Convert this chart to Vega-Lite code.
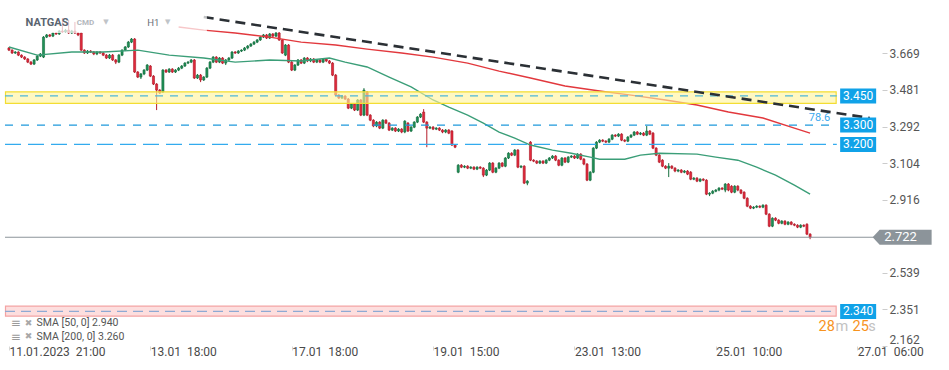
{
"$schema": "https://vega.github.io/schema/vega-lite/v6.json",
"width": 882, "height": 346,
"padding": {"left": 0, "top": 0, "right": 67, "bottom": 24},
"autosize": {"type": "none"},
"background": "white",
"config": {"view": {"stroke": null}, "font": "Roboto", "axis": {"grid": false, "domain": false}},
"resolve": {"scale": {"color": "independent", "stroke": "independent", "fill": "independent", "strokeDash": "independent"}},
"datasets": {
"bars": [
{"k":0,"o":3.697,"h":3.702,"l":3.681,"c":3.686},{"k":1,"o":3.686,"h":3.690,"l":3.666,"c":3.671},{"k":2,"o":3.671,"h":3.681,"l":3.666,"c":3.676},{"k":3,"o":3.676,"h":3.680,"l":3.655,"c":3.660},{"k":4,"o":3.660,"h":3.664,"l":3.645,"c":3.650},{"k":5,"o":3.650,"h":3.655,"l":3.635,"c":3.640},{"k":6,"o":3.640,"h":3.645,"l":3.619,"c":3.624},{"k":7,"o":3.624,"h":3.630,"l":3.609,"c":3.614},{"k":8,"o":3.614,"h":3.640,"l":3.609,"c":3.635},{"k":9,"o":3.635,"h":3.660,"l":3.630,"c":3.655},
{"k":10,"o":3.655,"h":3.671,"l":3.650,"c":3.666},{"k":11,"o":3.650,"h":3.758,"l":3.645,"c":3.753},{"k":12,"o":3.753,"h":3.769,"l":3.748,"c":3.764},{"k":13,"o":3.764,"h":3.769,"l":3.753,"c":3.758},{"k":14,"o":3.758,"h":3.779,"l":3.753,"c":3.774},{"k":15,"o":3.774,"h":3.779,"l":3.764,"c":3.769},{"k":16,"o":3.769,"h":3.790,"l":3.764,"c":3.784},{"k":17,"o":3.784,"h":3.851,"l":3.774,"c":3.779},{"k":18,"o":3.779,"h":3.795,"l":3.774,"c":3.789},{"k":19,"o":3.789,"h":3.841,"l":3.769,"c":3.774},
{"k":20,"o":3.774,"h":3.790,"l":3.769,"c":3.784},{"k":21,"o":3.784,"h":3.831,"l":3.769,"c":3.774},{"k":22,"o":3.774,"h":3.779,"l":3.758,"c":3.764},{"k":23,"o":3.774,"h":3.779,"l":3.681,"c":3.686},{"k":24,"o":3.686,"h":3.690,"l":3.666,"c":3.671},{"k":25,"o":3.671,"h":3.686,"l":3.666,"c":3.681},{"k":26,"o":3.681,"h":3.686,"l":3.671,"c":3.676},{"k":27,"o":3.676,"h":3.681,"l":3.660,"c":3.666},{"k":28,"o":3.666,"h":3.681,"l":3.660,"c":3.676},{"k":29,"o":3.676,"h":3.681,"l":3.666,"c":3.671},
{"k":30,"o":3.671,"h":3.676,"l":3.655,"c":3.660},{"k":31,"o":3.660,"h":3.666,"l":3.640,"c":3.645},{"k":32,"o":3.645,"h":3.666,"l":3.640,"c":3.660},{"k":33,"o":3.660,"h":3.666,"l":3.630,"c":3.635},{"k":34,"o":3.635,"h":3.640,"l":3.614,"c":3.624},{"k":35,"o":3.624,"h":3.666,"l":3.619,"c":3.660},{"k":36,"o":3.660,"h":3.690,"l":3.655,"c":3.686},{"k":37,"o":3.686,"h":3.707,"l":3.681,"c":3.702},{"k":38,"o":3.702,"h":3.733,"l":3.697,"c":3.727},{"k":39,"o":3.727,"h":3.748,"l":3.722,"c":3.743},
{"k":40,"o":3.743,"h":3.748,"l":3.568,"c":3.573},{"k":41,"o":3.573,"h":3.578,"l":3.542,"c":3.547},{"k":42,"o":3.547,"h":3.568,"l":3.537,"c":3.563},{"k":43,"o":3.563,"h":3.588,"l":3.557,"c":3.583},{"k":44,"o":3.583,"h":3.614,"l":3.578,"c":3.609},{"k":45,"o":3.604,"h":3.609,"l":3.547,"c":3.552},{"k":46,"o":3.552,"h":3.557,"l":3.506,"c":3.511},{"k":47,"o":3.511,"h":3.516,"l":3.377,"c":3.480},{"k":48,"o":3.480,"h":3.485,"l":3.460,"c":3.465},{"k":49,"o":3.470,"h":3.588,"l":3.465,"c":3.583},
{"k":50,"o":3.583,"h":3.588,"l":3.568,"c":3.573},{"k":51,"o":3.573,"h":3.593,"l":3.568,"c":3.588},{"k":52,"o":3.588,"h":3.593,"l":3.568,"c":3.573},{"k":53,"o":3.573,"h":3.588,"l":3.568,"c":3.583},{"k":54,"o":3.583,"h":3.599,"l":3.578,"c":3.593},{"k":55,"o":3.593,"h":3.609,"l":3.588,"c":3.604},{"k":56,"o":3.604,"h":3.624,"l":3.599,"c":3.619},{"k":57,"o":3.619,"h":3.630,"l":3.614,"c":3.624},{"k":58,"o":3.624,"h":3.640,"l":3.619,"c":3.635},{"k":59,"o":3.635,"h":3.640,"l":3.537,"c":3.542},
{"k":60,"o":3.542,"h":3.563,"l":3.537,"c":3.557},{"k":61,"o":3.557,"h":3.563,"l":3.521,"c":3.532},{"k":62,"o":3.532,"h":3.552,"l":3.527,"c":3.547},{"k":63,"o":3.547,"h":3.599,"l":3.542,"c":3.593},{"k":64,"o":3.593,"h":3.630,"l":3.588,"c":3.624},{"k":65,"o":3.624,"h":3.655,"l":3.619,"c":3.650},{"k":66,"o":3.650,"h":3.655,"l":3.619,"c":3.624},{"k":67,"o":3.624,"h":3.650,"l":3.619,"c":3.645},{"k":68,"o":3.645,"h":3.650,"l":3.614,"c":3.619},{"k":69,"o":3.619,"h":3.640,"l":3.609,"c":3.635},
{"k":70,"o":3.635,"h":3.650,"l":3.630,"c":3.645},{"k":71,"o":3.645,"h":3.681,"l":3.640,"c":3.676},{"k":72,"o":3.676,"h":3.681,"l":3.666,"c":3.671},{"k":73,"o":3.671,"h":3.686,"l":3.666,"c":3.681},{"k":74,"o":3.681,"h":3.690,"l":3.676,"c":3.686},{"k":75,"o":3.686,"h":3.702,"l":3.681,"c":3.697},{"k":76,"o":3.697,"h":3.712,"l":3.690,"c":3.707},{"k":77,"o":3.707,"h":3.722,"l":3.702,"c":3.717},{"k":78,"o":3.717,"h":3.733,"l":3.712,"c":3.727},{"k":79,"o":3.727,"h":3.743,"l":3.722,"c":3.738},
{"k":80,"o":3.738,"h":3.758,"l":3.733,"c":3.753},{"k":81,"o":3.753,"h":3.769,"l":3.748,"c":3.764},{"k":82,"o":3.764,"h":3.769,"l":3.743,"c":3.748},{"k":83,"o":3.748,"h":3.774,"l":3.743,"c":3.769},{"k":84,"o":3.769,"h":3.774,"l":3.753,"c":3.758},{"k":85,"o":3.758,"h":3.779,"l":3.753,"c":3.774},{"k":86,"o":3.774,"h":3.779,"l":3.733,"c":3.738},{"k":87,"o":3.738,"h":3.743,"l":3.666,"c":3.671},{"k":88,"o":3.660,"h":3.717,"l":3.655,"c":3.712},{"k":89,"o":3.712,"h":3.717,"l":3.619,"c":3.624},
{"k":90,"o":3.624,"h":3.630,"l":3.578,"c":3.583},{"k":91,"o":3.583,"h":3.614,"l":3.578,"c":3.609},{"k":92,"o":3.609,"h":3.640,"l":3.604,"c":3.635},{"k":93,"o":3.635,"h":3.640,"l":3.614,"c":3.619},{"k":94,"o":3.619,"h":3.650,"l":3.614,"c":3.645},{"k":95,"o":3.645,"h":3.650,"l":3.624,"c":3.630},{"k":96,"o":3.630,"h":3.645,"l":3.624,"c":3.640},{"k":97,"o":3.640,"h":3.645,"l":3.619,"c":3.624},{"k":98,"o":3.624,"h":3.640,"l":3.619,"c":3.635},{"k":99,"o":3.635,"h":3.640,"l":3.619,"c":3.624},
{"k":100,"o":3.624,"h":3.645,"l":3.619,"c":3.640},{"k":101,"o":3.640,"h":3.645,"l":3.624,"c":3.630},{"k":102,"o":3.630,"h":3.635,"l":3.614,"c":3.619},{"k":103,"o":3.619,"h":3.624,"l":3.552,"c":3.557},{"k":104,"o":3.557,"h":3.563,"l":3.449,"c":3.454},{"k":105,"o":3.454,"h":3.460,"l":3.434,"c":3.439},{"k":106,"o":3.439,"h":3.454,"l":3.434,"c":3.449},{"k":107,"o":3.449,"h":3.454,"l":3.429,"c":3.434},{"k":108,"o":3.434,"h":3.439,"l":3.382,"c":3.387},{"k":109,"o":3.387,"h":3.413,"l":3.382,"c":3.408},
{"k":110,"o":3.408,"h":3.413,"l":3.372,"c":3.377},{"k":111,"o":3.377,"h":3.434,"l":3.372,"c":3.429},{"k":112,"o":3.429,"h":3.434,"l":3.346,"c":3.351},{"k":113,"o":3.351,"h":3.490,"l":3.346,"c":3.480},{"k":114,"o":3.470,"h":3.475,"l":3.346,"c":3.351},{"k":115,"o":3.351,"h":3.356,"l":3.320,"c":3.325},{"k":116,"o":3.325,"h":3.330,"l":3.289,"c":3.295},{"k":117,"o":3.295,"h":3.320,"l":3.289,"c":3.315},{"k":118,"o":3.315,"h":3.320,"l":3.279,"c":3.284},{"k":119,"o":3.284,"h":3.330,"l":3.279,"c":3.325},
{"k":120,"o":3.325,"h":3.330,"l":3.305,"c":3.310},{"k":121,"o":3.310,"h":3.315,"l":3.269,"c":3.274},{"k":122,"o":3.274,"h":3.289,"l":3.269,"c":3.284},{"k":123,"o":3.284,"h":3.289,"l":3.264,"c":3.269},{"k":124,"o":3.269,"h":3.284,"l":3.264,"c":3.279},{"k":125,"o":3.279,"h":3.284,"l":3.258,"c":3.264},{"k":126,"o":3.264,"h":3.325,"l":3.258,"c":3.320},{"k":127,"o":3.310,"h":3.315,"l":3.264,"c":3.269},{"k":128,"o":3.269,"h":3.295,"l":3.264,"c":3.289},{"k":129,"o":3.289,"h":3.320,"l":3.284,"c":3.315},
{"k":130,"o":3.315,"h":3.346,"l":3.310,"c":3.341},{"k":131,"o":3.341,"h":3.361,"l":3.336,"c":3.356},{"k":132,"o":3.367,"h":3.382,"l":3.310,"c":3.315},{"k":133,"o":3.315,"h":3.320,"l":3.186,"c":3.284},{"k":134,"o":3.284,"h":3.295,"l":3.279,"c":3.289},{"k":135,"o":3.289,"h":3.295,"l":3.274,"c":3.279},{"k":136,"o":3.279,"h":3.289,"l":3.274,"c":3.284},{"k":137,"o":3.284,"h":3.289,"l":3.269,"c":3.274},{"k":138,"o":3.274,"h":3.279,"l":3.258,"c":3.264},{"k":139,"o":3.264,"h":3.279,"l":3.258,"c":3.274},
{"k":140,"o":3.274,"h":3.279,"l":3.253,"c":3.258},{"k":141,"o":3.269,"h":3.274,"l":3.192,"c":3.197},{"k":142,"o":3.197,"h":3.202,"l":3.181,"c":3.186},{"k":143,"o":3.057,"h":3.099,"l":3.052,"c":3.093},{"k":144,"o":3.093,"h":3.099,"l":3.078,"c":3.083},{"k":145,"o":3.083,"h":3.093,"l":3.078,"c":3.088},{"k":146,"o":3.088,"h":3.093,"l":3.073,"c":3.078},{"k":147,"o":3.078,"h":3.088,"l":3.073,"c":3.083},{"k":148,"o":3.083,"h":3.088,"l":3.068,"c":3.073},{"k":149,"o":3.073,"h":3.088,"l":3.068,"c":3.083},
{"k":150,"o":3.083,"h":3.088,"l":3.073,"c":3.078},{"k":151,"o":3.078,"h":3.083,"l":3.032,"c":3.042},{"k":152,"o":3.042,"h":3.073,"l":3.037,"c":3.068},{"k":153,"o":3.068,"h":3.109,"l":3.063,"c":3.104},{"k":154,"o":3.104,"h":3.109,"l":3.052,"c":3.057},{"k":155,"o":3.057,"h":3.083,"l":3.052,"c":3.078},{"k":156,"o":3.078,"h":3.109,"l":3.073,"c":3.104},{"k":157,"o":3.104,"h":3.109,"l":3.083,"c":3.088},{"k":158,"o":3.088,"h":3.135,"l":3.083,"c":3.130},{"k":159,"o":3.130,"h":3.160,"l":3.125,"c":3.155},
{"k":160,"o":3.155,"h":3.160,"l":3.140,"c":3.145},{"k":161,"o":3.145,"h":3.176,"l":3.140,"c":3.171},{"k":162,"o":3.171,"h":3.176,"l":3.078,"c":3.083},{"k":163,"o":3.083,"h":3.093,"l":3.078,"c":3.088},{"k":164,"o":3.088,"h":3.093,"l":2.996,"c":3.001},{"k":165,"o":3.001,"h":3.016,"l":2.990,"c":3.011},{"k":166,"o":3.212,"h":3.217,"l":3.114,"c":3.119},{"k":167,"o":3.119,"h":3.124,"l":3.109,"c":3.114},{"k":168,"o":3.114,"h":3.119,"l":3.099,"c":3.104},{"k":169,"o":3.104,"h":3.119,"l":3.099,"c":3.114},
{"k":170,"o":3.114,"h":3.119,"l":3.099,"c":3.104},{"k":171,"o":3.104,"h":3.124,"l":3.099,"c":3.119},{"k":172,"o":3.119,"h":3.135,"l":3.114,"c":3.130},{"k":173,"o":3.130,"h":3.145,"l":3.125,"c":3.140},{"k":174,"o":3.140,"h":3.145,"l":3.114,"c":3.119},{"k":175,"o":3.119,"h":3.124,"l":3.088,"c":3.093},{"k":176,"o":3.093,"h":3.135,"l":3.088,"c":3.130},{"k":177,"o":3.130,"h":3.135,"l":3.104,"c":3.109},{"k":178,"o":3.109,"h":3.140,"l":3.104,"c":3.135},{"k":179,"o":3.135,"h":3.145,"l":3.130,"c":3.140},
{"k":180,"o":3.140,"h":3.145,"l":3.125,"c":3.130},{"k":181,"o":3.130,"h":3.155,"l":3.125,"c":3.150},{"k":182,"o":3.150,"h":3.155,"l":3.119,"c":3.124},{"k":183,"o":3.124,"h":3.130,"l":3.093,"c":3.099},{"k":184,"o":3.099,"h":3.104,"l":3.011,"c":3.016},{"k":185,"o":3.016,"h":3.063,"l":3.011,"c":3.057},{"k":186,"o":3.057,"h":3.186,"l":3.052,"c":3.181},{"k":187,"o":3.181,"h":3.217,"l":3.176,"c":3.212},{"k":188,"o":3.212,"h":3.227,"l":3.207,"c":3.222},{"k":189,"o":3.222,"h":3.227,"l":3.212,"c":3.217},
{"k":190,"o":3.217,"h":3.222,"l":3.207,"c":3.212},{"k":191,"o":3.212,"h":3.233,"l":3.207,"c":3.227},{"k":192,"o":3.227,"h":3.253,"l":3.222,"c":3.248},{"k":193,"o":3.248,"h":3.253,"l":3.238,"c":3.243},{"k":194,"o":3.243,"h":3.258,"l":3.238,"c":3.253},{"k":195,"o":3.253,"h":3.258,"l":3.217,"c":3.222},{"k":196,"o":3.222,"h":3.227,"l":3.212,"c":3.217},{"k":197,"o":3.217,"h":3.243,"l":3.212,"c":3.238},{"k":198,"o":3.238,"h":3.253,"l":3.233,"c":3.248},{"k":199,"o":3.248,"h":3.269,"l":3.243,"c":3.264},
{"k":200,"o":3.264,"h":3.269,"l":3.248,"c":3.253},{"k":201,"o":3.253,"h":3.264,"l":3.248,"c":3.258},{"k":202,"o":3.258,"h":3.264,"l":3.243,"c":3.248},{"k":203,"o":3.248,"h":3.295,"l":3.243,"c":3.269},{"k":204,"o":3.269,"h":3.274,"l":3.248,"c":3.253},{"k":205,"o":3.258,"h":3.264,"l":3.176,"c":3.181},{"k":206,"o":3.181,"h":3.186,"l":3.140,"c":3.145},{"k":207,"o":3.145,"h":3.150,"l":3.104,"c":3.109},{"k":208,"o":3.119,"h":3.124,"l":3.083,"c":3.088},{"k":209,"o":3.088,"h":3.093,"l":3.073,"c":3.078},
{"k":210,"o":3.078,"h":3.104,"l":3.032,"c":3.088},{"k":211,"o":3.088,"h":3.093,"l":3.073,"c":3.078},{"k":212,"o":3.078,"h":3.083,"l":3.057,"c":3.063},{"k":213,"o":3.063,"h":3.073,"l":3.057,"c":3.068},{"k":214,"o":3.068,"h":3.073,"l":3.052,"c":3.057},{"k":215,"o":3.057,"h":3.068,"l":3.052,"c":3.063},{"k":216,"o":3.063,"h":3.068,"l":3.042,"c":3.047},{"k":217,"o":3.057,"h":3.063,"l":3.016,"c":3.021},{"k":218,"o":3.021,"h":3.032,"l":3.016,"c":3.026},{"k":219,"o":3.026,"h":3.032,"l":3.006,"c":3.011},
{"k":220,"o":3.011,"h":3.026,"l":3.006,"c":3.021},{"k":221,"o":3.021,"h":3.026,"l":3.011,"c":3.016},{"k":222,"o":3.016,"h":3.021,"l":2.939,"c":2.944},{"k":223,"o":2.944,"h":2.954,"l":2.934,"c":2.949},{"k":224,"o":2.949,"h":2.965,"l":2.944,"c":2.959},{"k":225,"o":2.959,"h":2.970,"l":2.954,"c":2.965},{"k":226,"o":2.965,"h":2.980,"l":2.959,"c":2.975},{"k":227,"o":2.975,"h":2.980,"l":2.965,"c":2.970},{"k":228,"o":2.965,"h":3.001,"l":2.954,"c":2.996},{"k":229,"o":2.996,"h":3.001,"l":2.959,"c":2.965},
{"k":230,"o":2.985,"h":2.990,"l":2.949,"c":2.954},{"k":231,"o":2.954,"h":2.990,"l":2.949,"c":2.985},{"k":232,"o":2.985,"h":2.990,"l":2.959,"c":2.965},{"k":233,"o":2.965,"h":2.970,"l":2.944,"c":2.949},{"k":234,"o":2.954,"h":2.959,"l":2.918,"c":2.923},{"k":235,"o":2.923,"h":2.928,"l":2.877,"c":2.882},{"k":236,"o":2.882,"h":2.887,"l":2.867,"c":2.872},{"k":237,"o":2.872,"h":2.882,"l":2.867,"c":2.877},{"k":238,"o":2.877,"h":2.887,"l":2.872,"c":2.882},{"k":239,"o":2.882,"h":2.887,"l":2.872,"c":2.877},
{"k":240,"o":2.877,"h":2.892,"l":2.872,"c":2.887},{"k":241,"o":2.887,"h":2.892,"l":2.836,"c":2.841},{"k":242,"o":2.841,"h":2.846,"l":2.774,"c":2.779},{"k":243,"o":2.779,"h":2.825,"l":2.774,"c":2.820},{"k":244,"o":2.820,"h":2.825,"l":2.805,"c":2.810},{"k":245,"o":2.810,"h":2.815,"l":2.789,"c":2.794},{"k":246,"o":2.794,"h":2.810,"l":2.789,"c":2.805},{"k":247,"o":2.805,"h":2.810,"l":2.784,"c":2.789},{"k":248,"o":2.789,"h":2.805,"l":2.784,"c":2.800},{"k":249,"o":2.800,"h":2.805,"l":2.784,"c":2.789},
{"k":250,"o":2.789,"h":2.794,"l":2.779,"c":2.784},{"k":251,"o":2.784,"h":2.789,"l":2.769,"c":2.774},{"k":252,"o":2.774,"h":2.789,"l":2.769,"c":2.784},{"k":253,"o":2.784,"h":2.789,"l":2.774,"c":2.779},{"k":254,"o":2.789,"h":2.794,"l":2.733,"c":2.738},{"k":255,"o":2.738,"h":2.743,"l":2.712,"c":2.722}
],
"sma": [
{"s":"SMA50","k":0,"v":3.702},{"s":"SMA50","k":9,"v":3.660},{"s":"SMA50","k":20,"v":3.676},{"s":"SMA50","k":30,"v":3.676},{"s":"SMA50","k":41,"v":3.686},{"s":"SMA50","k":51,"v":3.660},{"s":"SMA50","k":62,"v":3.645},{"s":"SMA50","k":72,"v":3.624},{"s":"SMA50","k":83,"v":3.635},{"s":"SMA50","k":93,"v":3.630},{"s":"SMA50","k":102,"v":3.645},{"s":"SMA50","k":107,"v":3.624},{"s":"SMA50","k":114,"v":3.599},{"s":"SMA50","k":121,"v":3.547},{"s":"SMA50","k":128,"v":3.496},{"s":"SMA50","k":135,"v":3.429},{"s":"SMA50","k":140,"v":3.392},{"s":"SMA50","k":146,"v":3.351},{"s":"SMA50","k":151,"v":3.310},{"s":"SMA50","k":156,"v":3.264},{"s":"SMA50","k":161,"v":3.233},{"s":"SMA50","k":166,"v":3.197},{"s":"SMA50","k":173,"v":3.171},{"s":"SMA50","k":179,"v":3.155},{"s":"SMA50","k":185,"v":3.135},{"s":"SMA50","k":188,"v":3.124},{"s":"SMA50","k":196,"v":3.124},{"s":"SMA50","k":201,"v":3.145},{"s":"SMA50","k":207,"v":3.155},{"s":"SMA50","k":219,"v":3.150},{"s":"SMA50","k":225,"v":3.135},{"s":"SMA50","k":232,"v":3.119},{"s":"SMA50","k":238,"v":3.083},{"s":"SMA50","k":244,"v":3.042},{"s":"SMA50","k":250,"v":2.990},{"s":"SMA50","k":255,"v":2.944},
{"s":"SMA200","k":54,"v":3.805},{"s":"SMA200","k":62,"v":3.789},{"s":"SMA200","k":72,"v":3.774},{"s":"SMA200","k":83,"v":3.753},{"s":"SMA200","k":93,"v":3.727},{"s":"SMA200","k":104,"v":3.712},{"s":"SMA200","k":114,"v":3.691},{"s":"SMA200","k":125,"v":3.671},{"s":"SMA200","k":135,"v":3.650},{"s":"SMA200","k":146,"v":3.619},{"s":"SMA200","k":156,"v":3.578},{"s":"SMA200","k":166,"v":3.542},{"s":"SMA200","k":177,"v":3.501},{"s":"SMA200","k":188,"v":3.475},{"s":"SMA200","k":198,"v":3.454},{"s":"SMA200","k":209,"v":3.429},{"s":"SMA200","k":219,"v":3.403},{"s":"SMA200","k":229,"v":3.367},{"s":"SMA200","k":240,"v":3.336},{"s":"SMA200","k":250,"v":3.284},{"s":"SMA200","k":255,"v":3.258}
],
"trend": [{"k":62,"v":3.856},{"k":274,"v":3.336}],
"zones": [{"name":"resistance","lo":3.412,"hi":3.471},{"name":"support","lo":2.316,"hi":2.367}],
"levels": [{"name":"3.450","v":3.45},{"name":"3.300","v":3.3},{"name":"3.200","v":3.2},{"name":"2.340","v":2.34}],
"price": [{"label":"2.722","v":2.722}]
},
"layer": [
{"data":{"name":"bars"},"mark":{"type":"rule","strokeWidth":1},
 "encoding":{
  "x":{"field":"k","type":"quantitative","title":null,"scale":{"domain":[-1.26,276.3],"nice":false,"zero":false},
   "axis":{"values":[0,45,90,135,180,225,270],
    "labelExpr":"datum.value == 0 ? '11.01.2023\u00a0\u00a021:00' : datum.value == 45 ? '13.01\u00a0\u00a018:00' : datum.value == 90 ? '17.01\u00a0\u00a018:00' : datum.value == 135 ? '19.01\u00a0\u00a015:00' : datum.value == 180 ? '23.01\u00a0\u00a013:00' : datum.value == 225 ? '25.01\u00a0\u00a010:00' : '27.01\u00a0\u00a006:00'",
    "labelAlign":"left","labelFlush":false,"labelOverlap":false,"labelPadding":-4,"tickSize":4,"tickColor":"#d6d6d6","domain":false,"grid":false,"labelFontSize":12,"labelColor":"#4a4a4a","labelFont":"Roboto"}},
  "y":{"field":"l","type":"quantitative","title":null,"scale":{"domain":[2.162,3.944],"nice":false,"zero":false},
   "axis":{"orient":"right","values":[3.669,3.481,3.292,3.104,2.916,2.539,2.351,2.162],"format":".3f","tickSize":5,"tickColor":"#cccccc","domain":false,"grid":false,"labelFontSize":12,"labelColor":"#555555","labelFont":"Roboto","labelPadding":2,"labelFlush":true,"labelOverlap":false}},
  "y2":{"field":"h"},
  "color":{"condition":{"test":"datum.c >= datum.o","value":"#17703f"},"value":"#b51d2b"}
 }},
{"data":{"name":"bars"},"mark":{"type":"bar","orient":"vertical","size":2.1,"strokeWidth":0.6},
 "encoding":{
  "x":{"field":"k","type":"quantitative","title":null},
  "y":{"field":"o","type":"quantitative","title":null},
  "y2":{"field":"c"},
  "fill":{"condition":{"test":"datum.c >= datum.o","value":"#1f9157"},"value":"#e22a3d"},
  "stroke":{"condition":{"test":"datum.c >= datum.o","value":"#13693d"},"value":"#a91a27"}
 }},
{"data":{"name":"sma"},"mark":{"type":"line","strokeWidth":1.4},
 "encoding":{
  "x":{"field":"k","type":"quantitative","title":null},
  "y":{"field":"v","type":"quantitative","title":null},
  "color":{"field":"s","type":"nominal","scale":{"domain":["SMA50","SMA200"],"range":["#3b9e78","#e2383d"]},"legend":null}
 }},
{"data":{"name":"zones"},"mark":{"type":"rect","fillOpacity":0.62,"strokeWidth":1.2},
 "encoding":{
  "x":{"datum":-1.1},"x2":{"datum":263.3},
  "y":{"field":"lo","type":"quantitative","title":null},"y2":{"field":"hi"},
  "fill":{"field":"name","type":"nominal","scale":{"domain":["resistance","support"],"range":["#fff39c","#fccaca"]},"legend":null},
  "stroke":{"field":"name","type":"nominal","scale":{"domain":["resistance","support"],"range":["#f3dd33","#f4a3a3"]},"legend":null}
 }},
{"data":{"name":"levels"},"mark":{"type":"rule","strokeWidth":1.3},
 "encoding":{
  "x":{"datum":-1.26},"x2":{"datum":263.5},
  "y":{"field":"v","type":"quantitative","title":null},
  "stroke":{"field":"name","type":"nominal","scale":{"domain":["3.450","3.300","3.200","2.340"],"range":["#4fb6d8","#1f99dc","#33abee","#8eaad4"]},"legend":null},
  "strokeDash":{"field":"name","type":"nominal","scale":{"domain":["3.450","3.300","3.200","2.340"],"range":[[8,7],[8,8],[16,7],[10,6]]},"legend":null}
 }},
{"data":{"name":"trend"},"mark":{"type":"line","color":"#2b3035","strokeWidth":2.6,"strokeDash":[10,6]},
 "encoding":{"x":{"field":"k","type":"quantitative","title":null},"y":{"field":"v","type":"quantitative","title":null}}},
{"data":{"name":"price"},"mark":{"type":"rule","color":"#8c949a","strokeWidth":1.1},
 "encoding":{"x":{"datum":-1.26},"x2":{"datum":275.6},"y":{"field":"v","type":"quantitative","title":null}}},
{"data":{"values":[{"part":"header"}]},"mark":{"type":"rect","fill":"white","opacity":0.72},
 "encoding":{"x":{"datum":-1.26},"x2":{"datum":63},"y":{"datum":3.944},"y2":{"datum":3.774}}},
{"data":{"name":"levels"},"mark":{"type":"point","shape":"M-2.4,-1H2.4V1H-2.4Z","size":225,"filled":true,"color":"#10a2e8","opacity":1},
 "encoding":{"x":{"datum":270.3},"y":{"field":"v","type":"quantitative","title":null}}},
{"data":{"name":"levels"},"mark":{"type":"text","color":"white","fontSize":12,"font":"Roboto","align":"center","baseline":"middle","letterSpacing":0.6},
 "encoding":{"x":{"datum":270.3},"y":{"field":"v","type":"quantitative","title":null},"text":{"field":"name"}}},
{"data":{"name":"price"},"mark":{"type":"point","shape":"M-3.93,0L-3,-1H3.93V1H-3Z","size":225,"filled":true,"color":"#8c949a","opacity":1},
 "encoding":{"x":{"datum":284.3},"y":{"field":"v","type":"quantitative","title":null}}},
{"data":{"name":"price"},"mark":{"type":"text","color":"white","fontSize":13,"font":"Roboto","align":"center","baseline":"middle"},
 "encoding":{"x":{"datum":283.8},"y":{"field":"v","type":"quantitative","title":null},"text":{"field":"label"}}},
{"data":{"values":[{"t":"NATGAS"}]},"mark":{"type":"text","align":"left","baseline":"middle","fontSize":11,"fontWeight":"bold","color":"#5a6470","font":"Roboto"},
 "encoding":{"x":{"datum":5.3},"y":{"datum":3.826},"text":{"field":"t"}}},
{"data":{"values":[{"t":"CMD"}]},"mark":{"type":"text","align":"left","baseline":"middle","fontSize":8,"fontWeight":"bold","color":"#b3b8bd","font":"Roboto"},
 "encoding":{"x":{"datum":21.6},"y":{"datum":3.824},"text":{"field":"t"}}},
{"data":{"values":[{"t":"▼"}]},"mark":{"type":"text","align":"left","baseline":"middle","fontSize":7,"color":"#c0c4c8","font":"DejaVu Sans"},
 "encoding":{"x":{"datum":30.0},"y":{"datum":3.829},"text":{"field":"t"}}},
{"data":{"values":[{"t":"H1"}]},"mark":{"type":"text","align":"left","baseline":"middle","fontSize":9.5,"color":"#6a7078","font":"Roboto"},
 "encoding":{"x":{"datum":44.0},"y":{"datum":3.826},"text":{"field":"t"}}},
{"data":{"values":[{"t":"▼"}]},"mark":{"type":"text","align":"left","baseline":"middle","fontSize":7,"color":"#c0c4c8","font":"DejaVu Sans"},
 "encoding":{"x":{"datum":49.7},"y":{"datum":3.829},"text":{"field":"t"}}},
{"data":{"values":[{"t":"78.6"}]},"mark":{"type":"text","align":"center","baseline":"middle","fontSize":11,"color":"#3aa8ee","font":"Roboto"},
 "encoding":{"x":{"datum":258.0},"y":{"datum":3.336},"text":{"field":"t"}}},
{"data":{"values":[{"t":"SMA [50,  0] 2.940"}]},"mark":{"type":"text","align":"left","baseline":"middle","fontSize":10.5,"color":"#555555","font":"Roboto"},
 "encoding":{"x":{"datum":8.8},"y":{"datum":2.281},"text":{"field":"t"}}},
{"data":{"values":[{"t":"SMA [200,  0] 3.260"}]},"mark":{"type":"text","align":"left","baseline":"middle","fontSize":10.5,"color":"#555555","font":"Roboto"},
 "encoding":{"x":{"datum":8.8},"y":{"datum":2.209},"text":{"field":"t"}}},
{"data":{"values":[{"t":"≡"}]},"mark":{"type":"text","align":"left","baseline":"middle","fontSize":12,"color":"#9a9a9a","font":"DejaVu Sans"},
 "encoding":{"x":{"datum":0.6},"y":{"datum":2.281},"text":{"field":"t"}}},
{"data":{"values":[{"t":"≡"}]},"mark":{"type":"text","align":"left","baseline":"middle","fontSize":12,"color":"#9a9a9a","font":"DejaVu Sans"},
 "encoding":{"x":{"datum":0.6},"y":{"datum":2.209},"text":{"field":"t"}}},
{"data":{"values":[{"t":"✖"}]},"mark":{"type":"text","align":"left","baseline":"middle","fontSize":9,"color":"#a8a8a8","font":"DejaVu Sans"},
 "encoding":{"x":{"datum":5.0},"y":{"datum":2.283},"text":{"field":"t"}}},
{"data":{"values":[{"t":"✖"}]},"mark":{"type":"text","align":"left","baseline":"middle","fontSize":9,"color":"#a8a8a8","font":"DejaVu Sans"},
 "encoding":{"x":{"datum":5.0},"y":{"datum":2.211},"text":{"field":"t"}}},
{"data":{"values":[{"t":"28"}]},"mark":{"type":"text","align":"left","baseline":"middle","fontSize":14.5,"color":"#f7931e","font":"Roboto"},
 "encoding":{"x":{"datum":257.7},"y":{"datum":2.262},"text":{"field":"t"}}},
{"data":{"values":[{"t":"m"}]},"mark":{"type":"text","align":"left","baseline":"middle","fontSize":14.5,"color":"#c2c2c2","font":"Roboto"},
 "encoding":{"x":{"datum":263.1},"y":{"datum":2.262},"text":{"field":"t"}}},
{"data":{"values":[{"t":"25"}]},"mark":{"type":"text","align":"left","baseline":"middle","fontSize":14.5,"color":"#f7931e","font":"Roboto"},
 "encoding":{"x":{"datum":268.5},"y":{"datum":2.262},"text":{"field":"t"}}},
{"data":{"values":[{"t":"s"}]},"mark":{"type":"text","align":"left","baseline":"middle","fontSize":14.5,"color":"#c2c2c2","font":"Roboto"},
 "encoding":{"x":{"datum":273.5},"y":{"datum":2.262},"text":{"field":"t"}}}
]
}
